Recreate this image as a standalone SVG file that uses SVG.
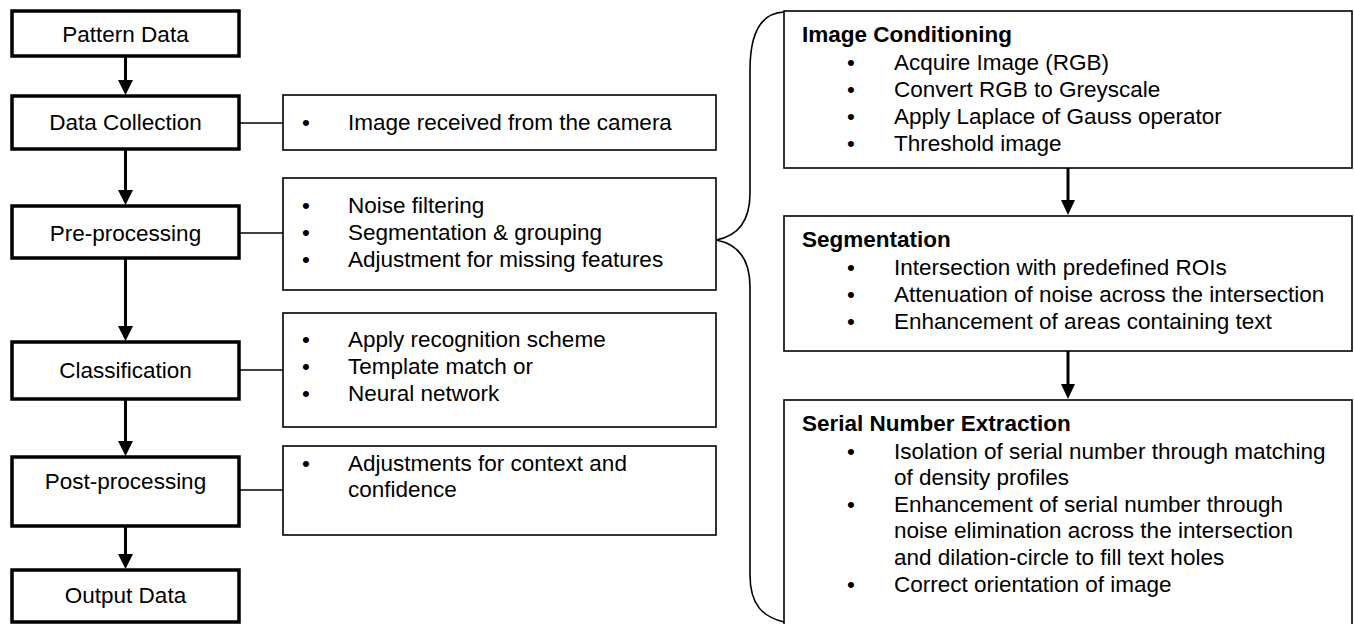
<svg xmlns="http://www.w3.org/2000/svg" width="1354" height="624" viewBox="0 0 1354 624">
<defs>
<style>
text{font-family:"Liberation Sans",Arial,sans-serif;font-size:22.5px;fill:#000}
.main{fill:#fff;stroke:#000;stroke-width:3.5}
.box{fill:#fff;stroke:#000;stroke-width:1.6}
.c{text-anchor:middle}
.b{font-weight:bold}
.ln{stroke:#000;stroke-width:1.6;fill:none}
.ar{stroke:#000;stroke-width:3;fill:none}
.hd{fill:#000;stroke:none}
</style>
</defs>
<g id="connectors">
<line class="ar" x1="125.5" y1="56" x2="125.5" y2="82"/><polygon class="hd" points="118,80 133,80 125.5,95"/>
<line class="ar" x1="125.5" y1="149" x2="125.5" y2="192"/><polygon class="hd" points="118,190 133,190 125.5,205"/>
<line class="ar" x1="125.5" y1="258" x2="125.5" y2="328"/><polygon class="hd" points="118,326 133,326 125.5,341"/>
<line class="ar" x1="125.5" y1="399" x2="125.5" y2="443"/><polygon class="hd" points="118,441 133,441 125.5,456"/>
<line class="ar" x1="125.5" y1="526" x2="125.5" y2="556"/><polygon class="hd" points="118,554 133,554 125.5,569"/>
<line class="ln" x1="239" y1="123" x2="283" y2="123"/>
<line class="ln" x1="239" y1="233" x2="283" y2="233"/>
<line class="ln" x1="239" y1="370" x2="283" y2="370"/>
<line class="ln" x1="239" y1="490" x2="283" y2="490"/>
<line class="ar" x1="1068" y1="168" x2="1068" y2="202"/><polygon class="hd" points="1061,200 1075,200 1068,215"/>
<line class="ar" x1="1068" y1="351" x2="1068" y2="386"/><polygon class="hd" points="1061,384 1075,384 1068,399"/>
<path class="ln" d="M784,12 C760,13 750,35 750,70 L750,193 C750,220 738,236 716,240 C738,244 750,260 750,287 L750,575 C750,605 763,617 784,622"/>
</g>
<g id="pattern-data"><rect class="main" x="12" y="11" width="227" height="45"/><text class="c" x="125.5" y="42">Pattern Data</text></g>
<g id="data-collection"><rect class="main" x="12" y="96" width="227" height="53"/><text class="c" x="125.5" y="130">Data Collection</text></g>
<g id="pre-processing"><rect class="main" x="12" y="206" width="227" height="52"/><text class="c" x="125.5" y="241">Pre-processing</text></g>
<g id="classification"><rect class="main" x="12" y="342" width="227" height="57"/><text class="c" x="125.5" y="378">Classification</text></g>
<g id="post-processing"><rect class="main" x="12" y="457" width="227" height="69"/><text class="c" x="125.5" y="489">Post-processing</text></g>
<g id="output-data"><rect class="main" x="12" y="570" width="227" height="52"/><text class="c" x="125.5" y="603">Output Data</text></g>
<g id="collection-details"><rect class="box" x="283" y="95" width="433" height="55"/>
<text x="302" y="130">•</text><text x="348" y="130">Image received from the camera</text></g>
<g id="pre-processing-details"><rect class="box" x="283" y="178" width="433" height="112"/>
<text x="302" y="213">•</text><text x="348" y="213">Noise filtering</text>
<text x="302" y="240">•</text><text x="348" y="240">Segmentation &amp; grouping</text>
<text x="302" y="267">•</text><text x="348" y="267">Adjustment for missing features</text></g>
<g id="classification-details"><rect class="box" x="283" y="313" width="433" height="114"/>
<text x="302" y="347">•</text><text x="348" y="347">Apply recognition scheme</text>
<text x="302" y="374">•</text><text x="348" y="374">Template match or</text>
<text x="302" y="401">•</text><text x="348" y="401">Neural network</text></g>
<g id="post-processing-details"><rect class="box" x="283" y="446" width="433" height="89"/>
<text x="302" y="471">•</text><text x="348" y="471">Adjustments for context and</text>
<text x="348" y="497">confidence</text></g>
<g id="image-conditioning"><rect class="box" x="784" y="11" width="568" height="157"/>
<text class="b" x="802" y="42">Image Conditioning</text>
<text x="847" y="70">•</text><text x="894" y="70">Acquire Image (RGB)</text>
<text x="847" y="97">•</text><text x="894" y="97">Convert RGB to Greyscale</text>
<text x="847" y="124">•</text><text x="894" y="124">Apply Laplace of Gauss operator</text>
<text x="847" y="151">•</text><text x="894" y="151">Threshold image</text></g>
<g id="segmentation"><rect class="box" x="784" y="216" width="568" height="135"/>
<text class="b" x="802" y="247">Segmentation</text>
<text x="847" y="275">•</text><text x="894" y="275">Intersection with predefined ROIs</text>
<text x="847" y="302">•</text><text x="894" y="302">Attenuation of noise across the intersection</text>
<text x="847" y="329">•</text><text x="894" y="329">Enhancement of areas containing text</text></g>
<g id="serial-number-extraction"><rect class="box" x="784" y="400" width="568" height="230"/>
<text class="b" x="802" y="431">Serial Number Extraction</text>
<text x="847" y="459">•</text><text x="894" y="459">Isolation of serial number through matching</text>
<text x="894" y="485">of density profiles</text>
<text x="847" y="512">•</text><text x="894" y="512">Enhancement of serial number through</text>
<text x="894" y="538">noise elimination across the intersection</text>
<text x="894" y="565">and dilation-circle to fill text holes</text>
<text x="847" y="592">•</text><text x="894" y="592">Correct orientation of image</text></g>
</svg>
